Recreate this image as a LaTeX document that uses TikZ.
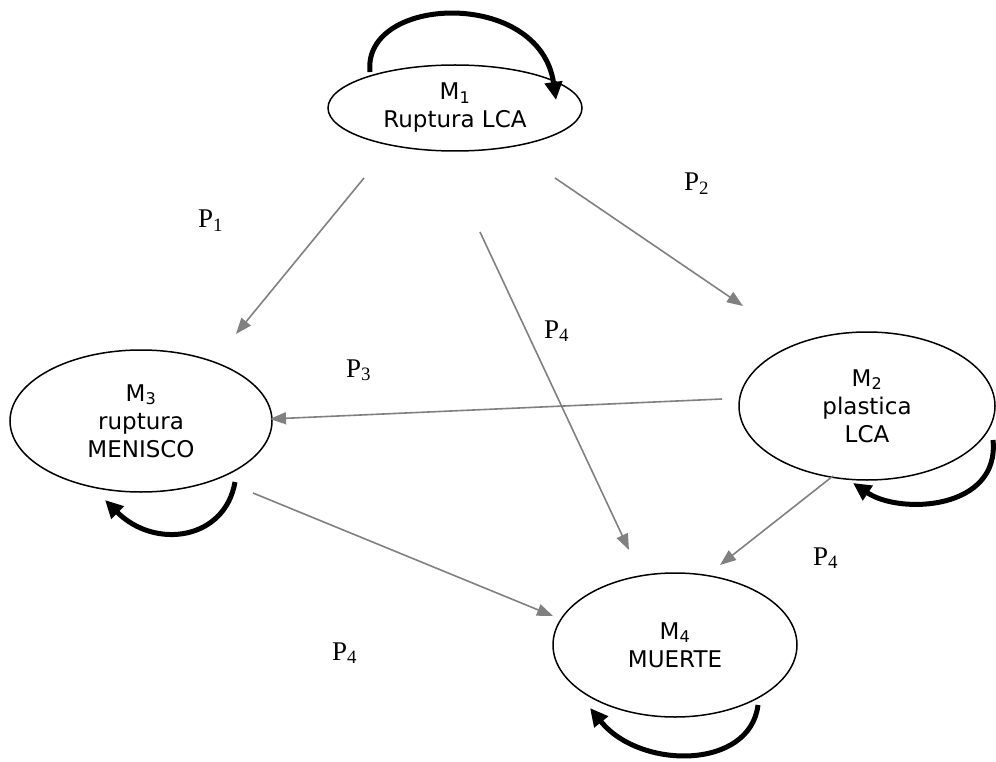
\documentclass[tikz,border=0pt]{standalone}
\usepackage{fontspec}
\setmainfont{Liberation Serif}
\newfontfamily\vfont{DejaVu Sans}
\usetikzlibrary{shapes.geometric,arrows.meta}
\tikzset{
  state/.style={draw=black, line width=1.5pt, ellipse, inner sep=0pt, align=center, font=\vfont\fontsize{23}{28}\selectfont},
  trans/.style={draw={rgb,255:red,128;green,128;blue,128}, line width=1.6pt, -{Triangle[length=16pt,width=12pt]}},
  loopar/.style={draw=black, line width=5pt, -{Triangle[length=18pt,width=17pt]}},
  plab/.style={font=\fontsize{27}{27}\selectfont, inner sep=0pt, anchor=base west}
}
\begin{document}
\begin{tikzpicture}[x=1pt,y=-1pt]
\useasboundingbox (0,0) rectangle (996,762);
% states
\node[state, minimum width=254pt, minimum height=86pt] (m1) at (455,108) {M\textsubscript{1}\\Ruptura LCA};
\node[state, minimum width=262pt, minimum height=142pt] (m3) at (141,421) {M\textsubscript{3}\\ruptura\\MENISCO};
\node[state, minimum width=256pt, minimum height=148pt] (m2) at (867,406) {M\textsubscript{2}\\plastica\\LCA};
\node[state, minimum width=244pt, minimum height=144pt] (m4) at (675,645) {M\textsubscript{4}\\MUERTE};
% connector end points
\coordinate (a1) at (364,178); \coordinate (b1) at (236,334);
\coordinate (a2) at (555,178); \coordinate (b2) at (743,306);
\coordinate (a3) at (480,232); \coordinate (b3) at (629,550);
\coordinate (a4) at (722,399); \coordinate (b4) at (270,419);
\coordinate (a5) at (833,476); \coordinate (b5) at (720,565);
\coordinate (a6) at (253,493); \coordinate (b6) at (553,616);
\draw[trans] (a1) -- (b1);
\draw[trans] (a2) -- (b2);
\draw[trans] (a3) -- (b3);
\draw[trans] (a4) -- (b4);
\draw[trans] (a5) -- (b5);
\draw[trans] (a6) -- (b6);
% self loops
\coordinate (l1s) at (370,72); \coordinate (l1e) at (556,100);
\coordinate (l3s) at (235,482); \coordinate (l3e) at (105,500);
\coordinate (l2s) at (993,440); \coordinate (l2e) at (853,483);
\coordinate (l4s) at (758,705); \coordinate (l4e) at (590,708);
\draw[loopar] (l1s) .. controls (362,-5) and (540,-12) .. (l1e);
\draw[loopar] (l3s) .. controls (225,540) and (155,550) .. (l3e);
\draw[loopar] (l2s) .. controls (1000,510) and (900,515) .. (l2e);
\draw[loopar] (l4s) .. controls (750,770) and (640,770) .. (l4e);
% labels
\node[plab] (p1) at (198,228) {P\textsubscript{1}};
\node[plab] (p2) at (684,191) {P\textsubscript{2}};
\node[plab] (p4a) at (544,338) {P\textsubscript{4}};
\node[plab] (p3) at (346,377) {P\textsubscript{3}};
\node[plab] (p4b) at (813,565) {P\textsubscript{4}};
\node[plab] (p4c) at (332,660) {P\textsubscript{4}};
\end{tikzpicture}
\end{document}
